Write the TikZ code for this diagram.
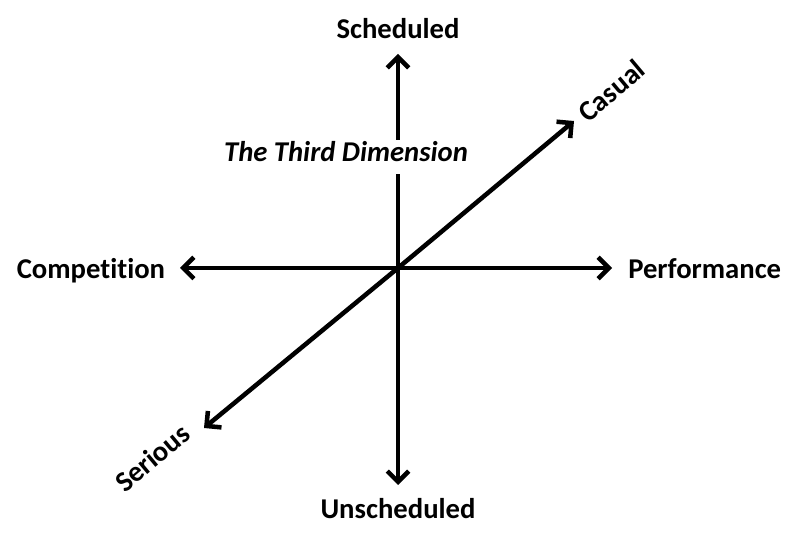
\documentclass[tikz,border=0pt]{standalone}
\usepackage{fontspec}
\setmainfont{Carlito}[Ligatures=CommonOff]
\usetikzlibrary{positioning, arrows.meta}

\begin{document}
\begin{tikzpicture}[
					x=0.75pt, y=-0.75pt,
					axis/.style={line width=3.4pt, -{Straight Barb[length=8pt,width=16pt]}},
					lbl/.style={font=\fontsize{21.5}{26}\selectfont\bfseries, inner sep=1pt, text height=1.6ex, text depth=0.3ex}
					]
					\useasboundingbox (0,0) rectangle (800,534);
					\coordinate (o) at (398,268);
					\coordinate (top) at (398,54);
					\coordinate (bot) at (398,485);
					\coordinate (lft) at (180,268);
					\coordinate (rgt) at (612,268);
					\coordinate (ne) at (574,121);
					\coordinate (sw) at (204,428);
					\draw[axis] (o) -- (top);
					\draw[axis] (o) -- (bot);
					\draw[axis] (o) -- (lft);
					\draw[axis] (o) -- (rgt);
					\draw[axis] (o) -- (ne);
					\draw[axis] (o) -- (sw);
					\node[lbl, fill=white, font=\fontsize{21.5}{26}\selectfont\bfseries\itshape, inner xsep=5pt, inner ysep=8pt] (third) at (346,157) {The Third Dimension};
					\node[lbl, above=9pt of top] (sched) {Scheduled};
					\node[lbl, below=16pt of bot] (unsched) {Unscheduled};
					\node[lbl, left=10pt of lft, yshift=-5pt] (comp) {Competition};
					\node[lbl, right=11pt of rgt, yshift=-5pt] (perf) {Performance};
					\node[lbl, rotate=40] (casual) at (615,95) {Casual};
					\node[lbl, rotate=40] (serious) at (156,462) {Serious};
				\end{tikzpicture}
\end{document}
